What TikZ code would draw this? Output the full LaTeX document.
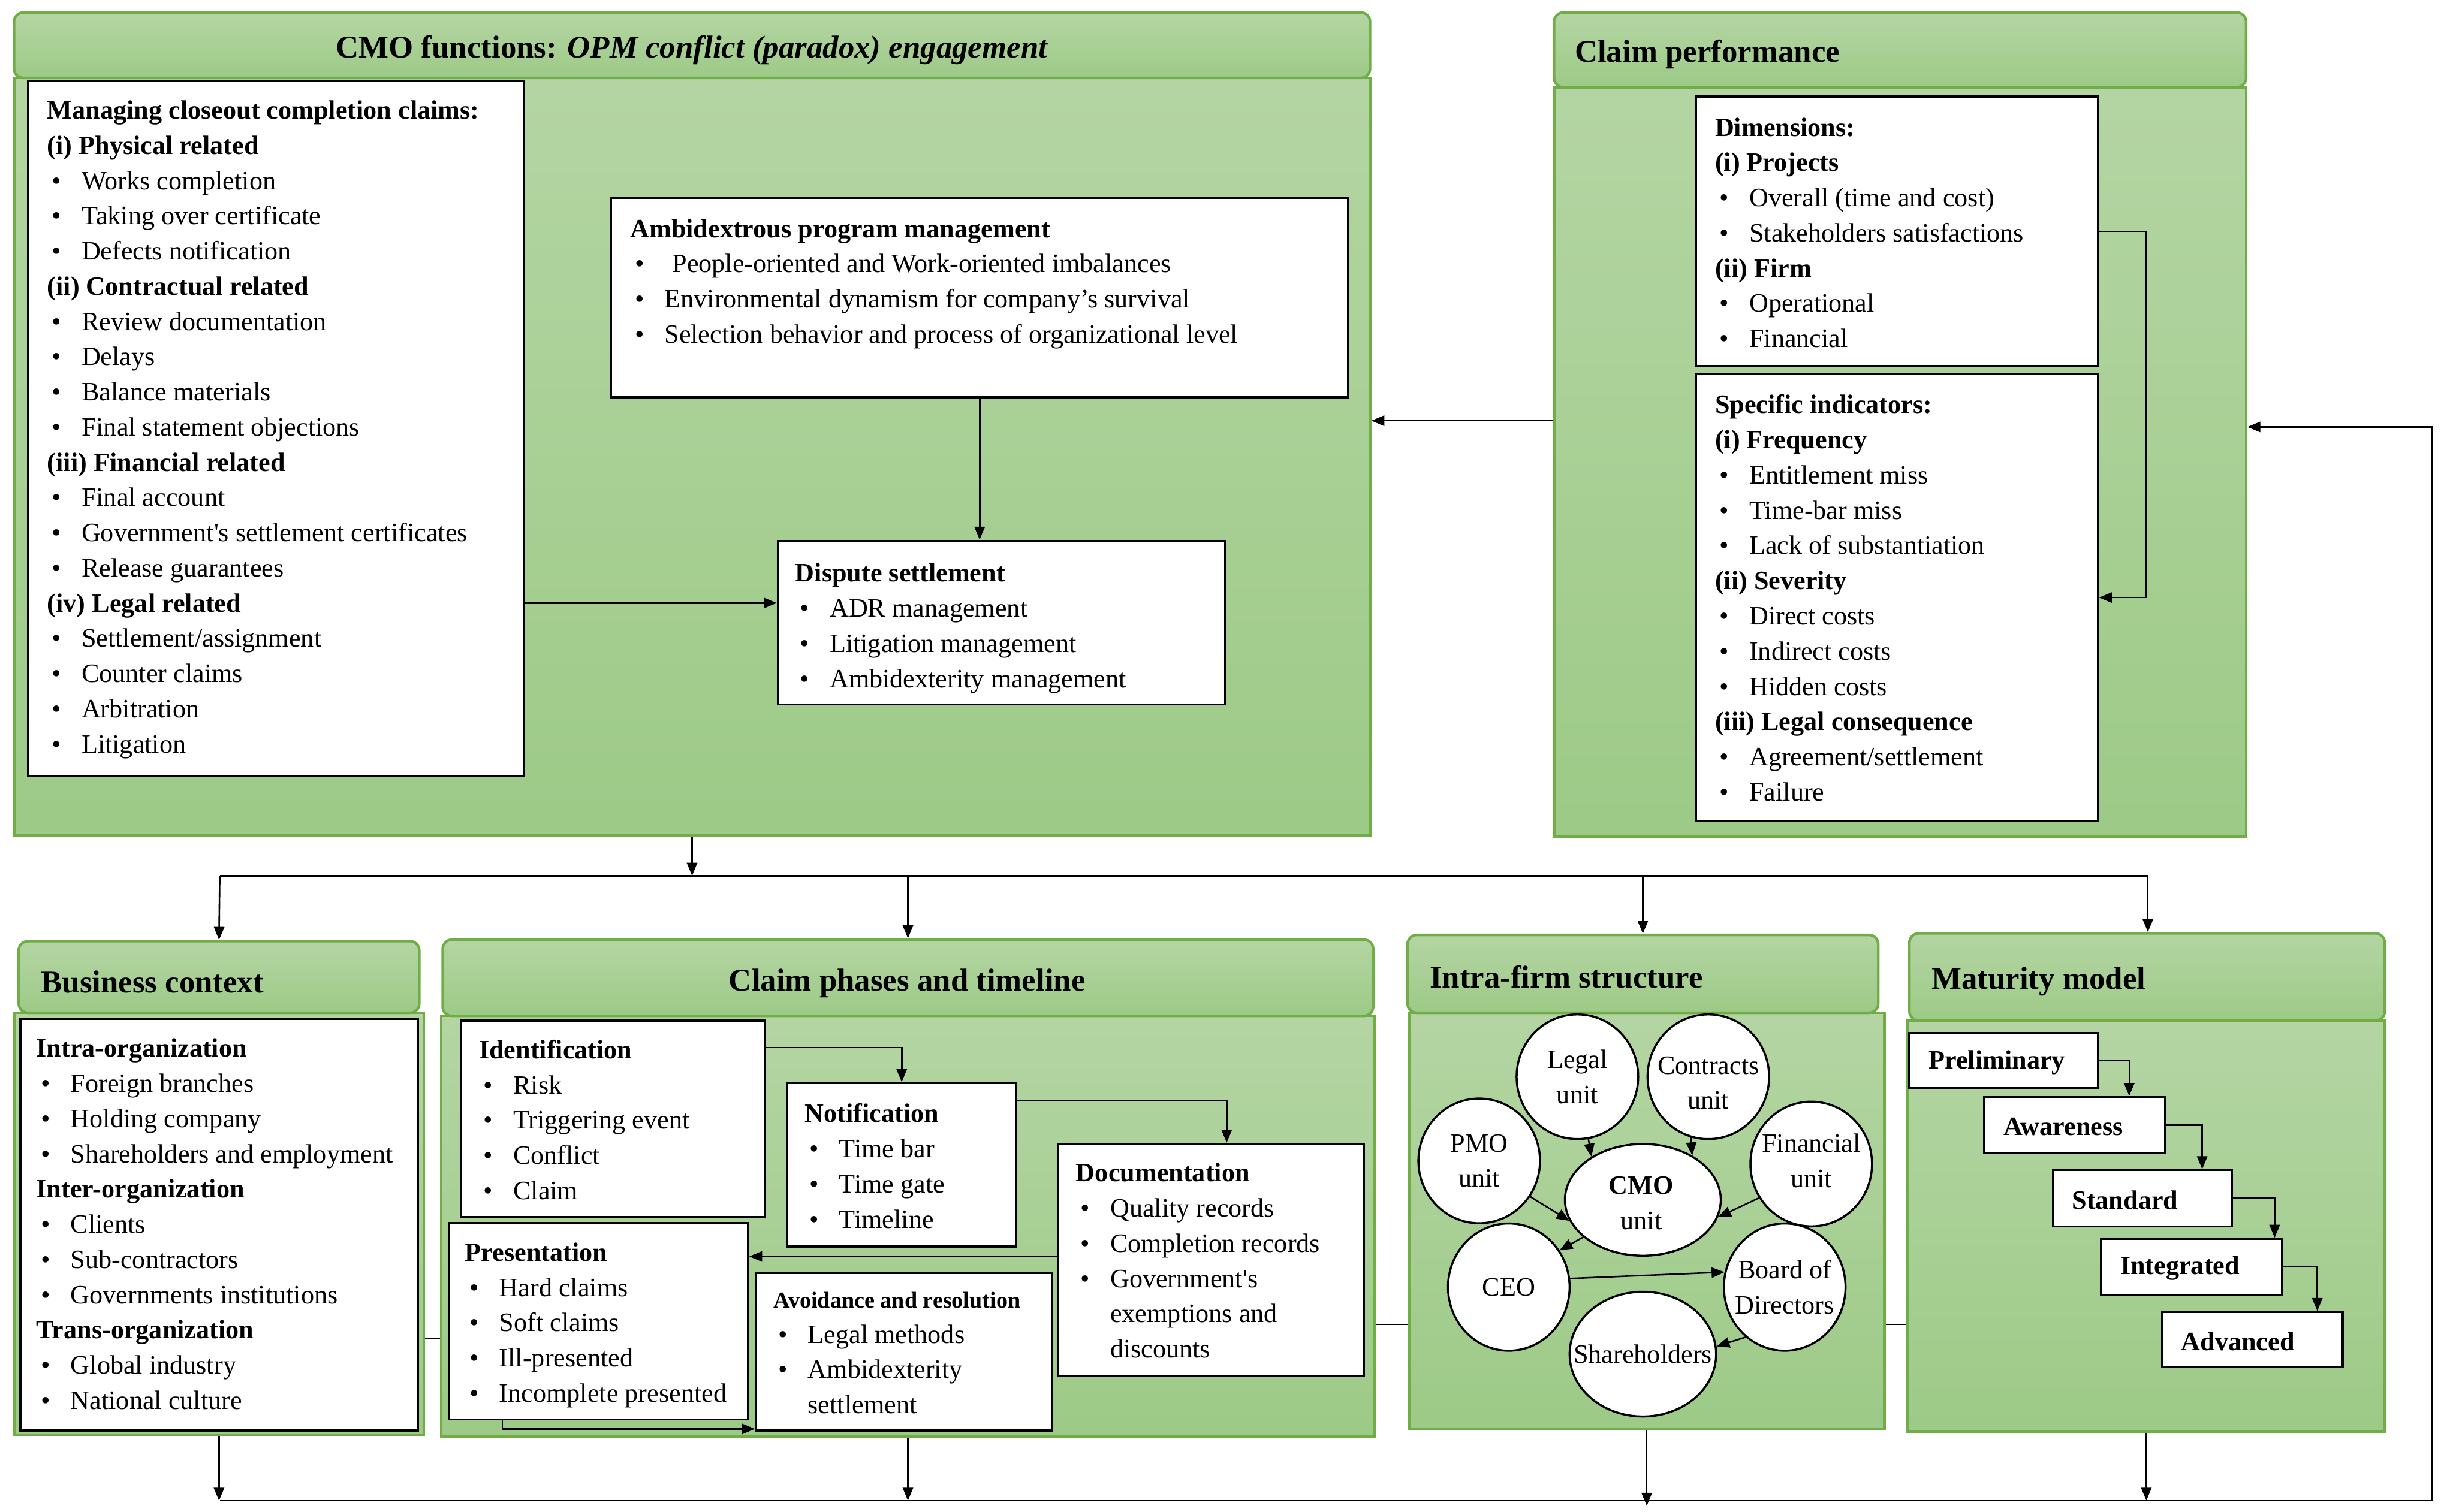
\documentclass[tikz,border=0pt]{standalone}
\usepackage{fontspec}
\setmainfont{Liberation Serif}
\usetikzlibrary{arrows.meta,fit,shapes.geometric,calc}
\definecolor{gtop}{HTML}{B4D5A3}
\definecolor{gbot}{HTML}{9DCA87}
\definecolor{gborder}{HTML}{70AD47}
\newcommand\bodyf{\fontsize{10.2pt}{13.56pt}\selectfont}
\newcommand\titf{\fontsize{12.2pt}{14pt}\selectfont\bfseries}
\newcommand\smallbf{\fontsize{8.8pt}{13.56pt}\selectfont\bfseries}
\newcommand\bu{\hspace*{1.8pt}\makebox[11.4pt][l]{•}}
\newcommand\ind{\hspace*{13.2pt}}
\newcommand\st{\rule{0pt}{10.2pt}}
\tikzset{
 hdr/.style={draw=gborder, line width=1pt, rounded corners=3.6pt, top color=gtop, bottom color=gbot, inner sep=0pt},
 pnl/.style={draw=gborder, line width=1pt, top color=gtop, bottom color=gbot, inner sep=0pt},
 wbox/.style={draw=black, line width=0.8pt, fill=white, inner sep=0pt},
 txt/.style={anchor=north west, inner sep=0pt, align=left, font=\bodyf, yshift=-0.6pt},
 htitle/.style={inner sep=0pt, font=\titf, yshift=-1.2pt},
 unitc/.style={ellipse, draw=black, line width=0.8pt, fill=white, inner sep=0pt},
 utext/.style={inner sep=0pt, align=center, font=\bodyf},
 mtext/.style={anchor=west, inner sep=0pt, font=\bodyf\bfseries},
 arr/.style={draw=black, line width=0.6pt, -{Triangle[length=5pt,width=4pt]}},
 ln/.style={draw=black, line width=0.6pt},
}
\begin{document}
\begin{tikzpicture}[x=0.6pt,y=-0.6pt]
\useasboundingbox (0,0) rectangle (1568,970);

% ---------- CMO functions ----------
\node[pnl, fit={(9,50) (879,536)}] (cmoB) {};
\node[hdr, fit={(9,8) (879,50)}] (cmoH) {};
\node[htitle] (cmoT) at (444,30) {CMO functions: \textit{OPM conflict (paradox) engagement}};

\node[wbox, fit={(18,52) (336,498)}] (manage) {};
\node[txt] (manageT) at (30,58) {\st\textbf{Managing closeout completion claims:}\\
\textbf{(i) Physical related}\\
\bu Works completion\\
\bu Taking over certificate\\
\bu Defects notification\\
\textbf{(ii) Contractual related}\\
\bu Review documentation\\
\bu Delays\\
\bu Balance materials\\
\bu Final statement objections\\
\textbf{(iii) Financial related}\\
\bu Final account\\
\bu Government\textquotesingle s settlement certificates\\
\bu Release guarantees\\
\textbf{(iv) Legal related}\\
\bu Settlement/assignment\\
\bu Counter claims\\
\bu Arbitration\\
\bu Litigation};

\node[wbox, fit={(392,127) (865,255)}] (amb) {};
\node[txt] (ambT) at (404,134) {\st\textbf{Ambidextrous program management}\\
\bu\hspace{3pt}People-oriented and Work-oriented imbalances\\
\bu Environmental dynamism for company’s survival\\
\bu Selection behavior and process of organizational level};

\node[wbox, fit={(499,347) (786,452)}] (disp) {};
\node[txt] (dispT) at (510,355) {\st\textbf{Dispute settlement}\\
\bu ADR management\\
\bu Litigation management\\
\bu Ambidexterity management};

\draw[arr] (amb.south) -- (amb.south |- disp.north);
\coordinate (md) at ([yshift=7.5pt]disp.west);
\draw[arr] (md -| manage.east) -- (md);

% ---------- Claim performance ----------
\node[pnl, fit={(997,56) (1441,537)}] (cpB) {};
\node[hdr, fit={(997,8) (1441,56)}] (cpH) {};
\node[htitle, anchor=west] (cpT) at (1010,33) {Claim performance};

\node[wbox, fit={(1088,62) (1346,235)}] (dim) {};
\node[txt] (dimT) at (1100,69) {\st\textbf{Dimensions:}\\
\textbf{(i) Projects}\\
\bu Overall (time and cost)\\
\bu Stakeholders satisfactions\\
\textbf{(ii) Firm}\\
\bu Operational\\
\bu Financial};

\node[wbox, fit={(1088,240) (1346,527)}] (spec) {};
\node[txt] (specT) at (1100,247) {\st\textbf{Specific indicators:}\\
\textbf{(i) Frequency}\\
\bu Entitlement miss\\
\bu Time-bar miss\\
\bu Lack of substantiation\\
\textbf{(ii) Severity}\\
\bu Direct costs\\
\bu Indirect costs\\
\bu Hidden costs\\
\textbf{(iii) Legal consequence}\\
\bu Agreement/settlement\\
\bu Failure};

\draw[arr] (dim.east) -- ++(18pt,0) |- (spec.east);
\coordinate (cpl) at ([yshift=15.9pt]cpB.west);
\draw[arr] (cpl) -- (cpl -| cmoB.east);

% ---------- Business context ----------
\node[pnl, fit={(9,650) (272,921)}] (bcB) {};
\node[hdr, fit={(12,604) (269,650)}] (bcH) {};
\node[htitle, anchor=west] (bcT) at (26,628) {Business context};
\node[wbox, fit={(13,654) (268,918)}] (bctx) {};
\node[txt] (bctxT) at (23,660) {\st\textbf{Intra-organization}\\
\bu Foreign branches\\
\bu Holding company\\
\bu Shareholders and employment\\
\textbf{Inter-organization}\\
\bu Clients\\
\bu Sub-contractors\\
\bu Governments institutions\\
\textbf{Trans-organization}\\
\bu Global industry\\
\bu National culture};

% ---------- Claim phases ----------
\node[pnl, fit={(283,652) (882,922)}] (phB) {};
\node[hdr, fit={(284,603) (881,652)}] (phH) {};
\node[htitle] (phT) at (582,629) {Claim phases and timeline};

\node[wbox, fit={(296,655) (491,781)}] (ident) {};
\node[txt] (identT) at (307,661) {\st\textbf{Identification}\\
\bu Risk\\
\bu Triggering event\\
\bu Conflict\\
\bu Claim};

\node[wbox, fit={(505,695) (652,800)}] (notif) {};
\node[txt] (notifT) at (516,702) {\st\textbf{Notification}\\
\bu Time bar\\
\bu Time gate\\
\bu Timeline};

\node[wbox, fit={(679,734) (875,883)}] (doc) {};
\node[txt] (docT) at (690,740) {\st\textbf{Documentation}\\
\bu Quality records\\
\bu Completion records\\
\bu Government\textquotesingle s\\
\ind exemptions and\\
\ind discounts};

\node[wbox, fit={(288,785) (480,911)}] (pres) {};
\node[txt] (presT) at (298,791) {\st\textbf{Presentation}\\
\bu Hard claims\\
\bu Soft claims\\
\bu Ill-presented\\
\bu Incomplete presented};

\node[wbox, fit={(485,817) (675,918)}] (avoid) {};
\node[txt] (avoidT) at (496,821) {\st{\smallbf Avoidance and resolution}\\
\bu Legal methods\\
\bu Ambidexterity\\
\ind settlement};

\draw[arr] ([yshift=-10.8pt]ident.north east) -| (notif.north);
\draw[arr] ([yshift=-7.2pt]notif.north east) -| ([xshift=6pt]doc.north);
\coordinate (dp) at ([yshift=-43.8pt]doc.north west);
\draw[arr] (dp) -- (dp -| pres.east);
\coordinate (pa) at ([xshift=21pt]pres.south west);
\draw[arr] (pa) |- ([yshift=1pt]avoid.south west);

% ---------- Intra-firm structure ----------
\node[pnl, fit={(904,650) (1209,917)}] (ifB) {};
\node[hdr, fit={(903,600) (1205,650)}] (ifH) {};
\node[htitle, anchor=west] (ifT) at (917,625) {Intra-firm structure};

\node[unitc, minimum width=46.8pt, minimum height=48pt] (legal) at (1012,691) {};
\node[utext] (legalT) at (legal) {Legal\\unit};
\node[unitc, minimum width=46.8pt, minimum height=48pt] (contracts) at (1096,691) {};
\node[utext] (contractsT) at (1096,695) {Contracts\\unit};
\node[unitc, minimum width=46.8pt, minimum height=48pt] (pmo) at (949,745) {};
\node[utext] (pmoT) at (pmo) {PMO\\unit};
\node[unitc, minimum width=60pt, minimum height=43pt] (cmo) at (1054,770) {};
\node[utext] (cmoUT) at (1053,772) {\textbf{CMO}\\unit};
\node[unitc, minimum width=46.8pt, minimum height=48pt] (fin) at (1162,747) {};
\node[utext] (finT) at (1162,745) {Financial\\unit};
\node[unitc, minimum width=46.8pt, minimum height=49pt] (ceo) at (968,826) {};
\node[utext] (ceoT) at (ceo) {CEO};
\node[unitc, minimum width=46.8pt, minimum height=49pt] (board) at (1145,826) {};
\node[utext] (boardT) at (board) {Board of\\Directors};
\node[unitc, minimum width=56.4pt, minimum height=48pt] (share) at (1054,869) {};
\node[utext] (shareT) at (share) {Shareholders};

\draw[arr] (legal.280) -- (cmo.140);
\draw[arr] (contracts.254) -- (cmo.42);
\draw[arr] (pmo.325) -- (cmo.196);
\draw[arr] (fin.213) -- (cmo.347);
\draw[arr] (cmo.212) -- (ceo.36);
\draw[arr] (ceo.8) -- (board.166);
\draw[arr] (board.232) -- (share.6);

% ---------- Maturity model ----------
\node[pnl, fit={(1224,655) (1530,919)}] (mmB) {};
\node[hdr, fit={(1225,599) (1530,655)}] (mmH) {};
\node[htitle, anchor=west] (mmT) at (1239,628) {Maturity model};

\node[wbox, fit={(1225,663) (1346,698)}] (prelim) {};
\node[mtext] (prelimT) at (1237,682) {Preliminary};
\node[wbox, fit={(1273,704) (1389,740)}] (aware) {};
\node[mtext] (awareT) at (1285,723) {Awareness};
\node[wbox, fit={(1317,751) (1432,787)}] (stand) {};
\node[mtext] (standT) at (1329,770) {Standard};
\node[wbox, fit={(1348,795) (1464,831)}] (integ) {};
\node[mtext] (integT) at (1360,814) {Integrated};
\node[wbox, fit={(1387,842) (1503,877)}] (adv) {};
\node[mtext] (advT) at (1399,861) {Advanced};

\draw[arr] (prelim.east) -| ([xshift=21pt]aware.north);
\draw[arr] (aware.east) -| ([xshift=23pt]stand.north);
\draw[arr] (stand.east) -| ([xshift=32pt]integ.north);
\draw[arr] (integ.east) -| ([xshift=25pt]adv.north);

% ---------- distribution from CMO functions ----------
\coordinate (tl) at (141,562);
\coordinate (tr) at (1378,562);
\draw[arr] (cmoB.south) -- (cmoB.south |- tl);
\draw[ln] (tl) -- (tr);
\draw[arr] (tl) -- (bcH.north);
\draw[arr] (phH.north |- tl) -- (phH.north);
\draw[arr] (ifH.north |- tl) -- (ifH.north);
\draw[arr] (tr) -- (tr |- mmH.north);

% ---------- side links between lower panels ----------
\coordinate (h1) at (0,859);
\coordinate (h2) at (0,850);
\draw[ln] (bcB.east |- h1) -- (phB.west |- h1);
\draw[ln] (phB.east |- h2) -- (ifB.west |- h2);
\draw[ln] (ifB.east |- h2) -- (mmB.west |- h2);

% ---------- feedback loop ----------
\coordinate (bl) at (141,963);
\coordinate (br) at (1560,963);
\coordinate (cpr) at ([yshift=13.5pt]cpB.east);
\draw[arr] (bcB.south) -- (bcB.south |- bl);
\draw[arr] (phB.south) -- (phB.south |- bl);
\draw[arr] (ifB.south) -- ([yshift=-2pt]ifB.south |- bl);
\draw[arr] (mmB.south) -- (mmB.south |- bl);
\draw[arr] (bl) -- (br) |- (cpr);
\end{tikzpicture}
\end{document}
